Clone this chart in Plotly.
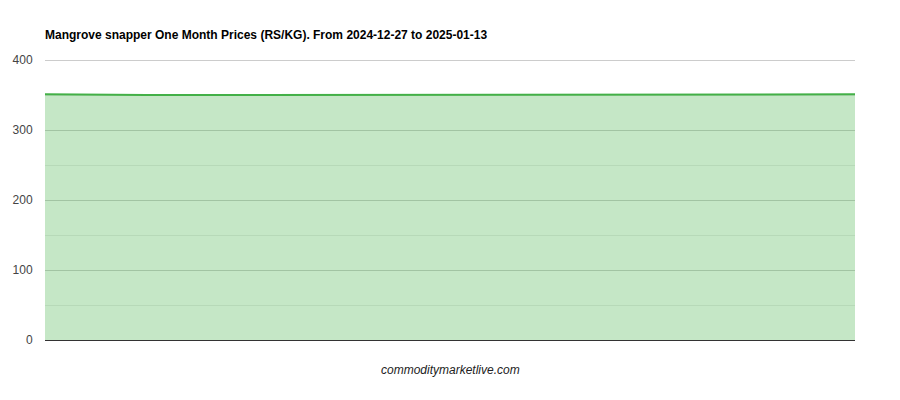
import plotly.graph_objects as go

# Mangrove snapper daily prices (RS/KG)
dates = ['2024-12-27', '2024-12-28', '2024-12-29', '2024-12-30', '2024-12-31',
         '2025-01-02', '2025-01-03', '2025-01-04', '2025-01-05', '2025-01-06',
         '2025-01-07', '2025-01-08', '2025-01-09', '2025-01-10', '2025-01-11',
         '2025-01-12', '2025-01-13']
prices = [351, 350, 350, 350, 350, 350, 350, 350, 350,
          350, 350, 350, 350, 350, 350, 350, 351]
y_ticks = [0, 100, 200, 300, 400]

LINE = 'rgb(67,176,71)'
FILL = 'rgba(67,176,71,0.31)'

fig = go.Figure(go.Scatter(
    x=dates,
    y=prices,
    mode='lines',
    line=dict(color=LINE, width=2),
    fill='tozeroy',
    fillcolor=FILL,
    hovertemplate='%{x}: %{y}<extra></extra>',
))

# page body adds an 8px offset, so margins are shifted to compensate
fig.update_layout(
    width=900,
    height=400,
    margin=dict(l=37, r=53, t=51, b=68),
    paper_bgcolor='#ffffff',
    plot_bgcolor='#ffffff',
    font=dict(family='Arial, Liberation Sans, sans-serif', size=12, color='#444444'),
    showlegend=False,
    title=dict(
        text='<b>Mangrove snapper One Month Prices (RS/KG). From 2024-12-27 to 2025-01-13</b>',
        x=37 / 900, xanchor='left',
        y=1 - 27 / 400, yanchor='middle',
        font=dict(size=12, color='#000000'),
    ),
    xaxis=dict(
        type='category',
        range=[0, len(dates) - 1],
        showticklabels=False,
        showgrid=False,
        showline=True,
        linecolor='#333333',
        linewidth=1,
        ticks='',
        zeroline=False,
        automargin=False,
        fixedrange=True,
    ),
    yaxis=dict(
        range=[0, 401.5],  # a hair of headroom so the 400 gridline is drawn
        tickvals=y_ticks,
        showgrid=True,
        gridcolor='#cccccc',
        gridwidth=1,
        minor=dict(dtick=50, showgrid=True, gridcolor='#ebebeb', gridwidth=1),
        ticks='outside',
        ticklen=9,
        tickcolor='rgba(0,0,0,0)',
        zeroline=False,
        tickfont=dict(size=12, color='#444444'),
        automargin=False,
        fixedrange=True,
    ),
)

fig.add_annotation(
    text='<i>commoditymarketlive.com</i>',
    xref='paper', yref='paper',
    x=0.5, y=-30 / 281,
    xanchor='center', yanchor='middle',
    showarrow=False,
    font=dict(size=12, color='#222222'),
)

fig.write_html('out.html')
